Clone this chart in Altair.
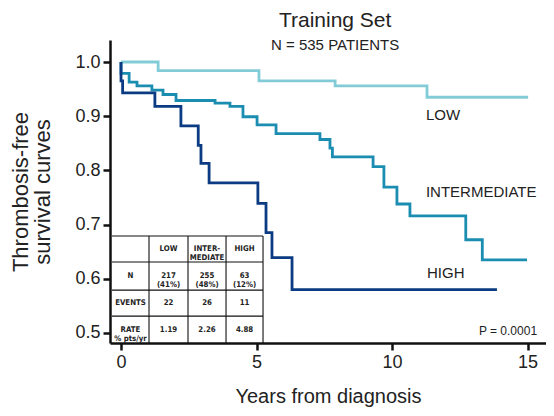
import altair as alt
import pandas as pd

# ---- data ----
low_t = [0, 1.37, 5.09, 7.90, 11.29, 15.02]
low_s = [1.0, 0.984, 0.965, 0.956, 0.935, 0.935]

int_t = [0, 0, 0.30, 0.59, 1.14, 1.55, 2.03, 3.47, 4.02, 4.50, 5.02, 5.72,
         7.34, 7.71, 7.80, 9.30, 9.70, 10.18, 10.66, 12.72, 13.33, 14.98]
int_s = [1.0, 0.979, 0.963, 0.956, 0.948, 0.940, 0.929, 0.924, 0.918, 0.899, 0.884, 0.868,
         0.857, 0.841, 0.825, 0.807, 0.769, 0.738, 0.716, 0.672, 0.635, 0.635]

high_t = [0, 0, 0.06, 1.25, 2.21, 2.85, 2.95, 3.25, 5.05, 5.35, 5.57, 6.31, 13.87]
high_s = [1.0, 0.965, 0.943, 0.918, 0.882, 0.846, 0.813, 0.777, 0.739, 0.685, 0.639, 0.580, 0.580]

groups = ["LOW", "INTERMEDIATE", "HIGH"]
colors = ["#82ccd7", "#1a8db1", "#0b3b82"]

x_ticks = [0, 5, 10, 15]
y_ticks = [0.5, 0.6, 0.7, 0.8, 0.9, 1.0]

table_header = ["", "LOW", "INTER-\nMEDIATE", "HIGH"]
table_rows = [
    ["N", "217\n(41%)", "255\n(48%)", "63\n(12%)"],
    ["EVENTS", "22", "26", "11"],
    ["RATE\n% pts/yr", "1.19", "2.26", "4.88"],
]

title_text = "Training Set"
subtitle_text = "N = 535 PATIENTS"
p_text = "P = 0.0001"

# ---- build tables ----
rows = []
for g, ts, ss in zip(groups, [low_t, int_t, high_t], [low_s, int_s, high_s]):
    for i, (t, s) in enumerate(zip(ts, ss)):
        rows.append({"group": g, "t": t, "s": s, "order": i})
curves = pd.DataFrame(rows)

xdom = [-0.406, 15.68]
ydom = [0.4815, 1.0406]
xs = alt.Scale(domain=xdom, nice=False, zero=False)
ys = alt.Scale(domain=ydom, nice=False, zero=False)

font = "Liberation Sans"
tfont = "DejaVu Sans Condensed, Liberation Sans, sans-serif"

lines = alt.Chart(curves).mark_line(interpolate="step-after", strokeWidth=2.8).encode(
    x=alt.X("t:Q", scale=xs, axis=alt.Axis(
        values=x_ticks, title="Years from diagnosis", format="d",
        titleFontSize=20, titleFontWeight="normal", titlePadding=15,
        labelFontSize=18, labelPadding=3, tickSize=7, tickWidth=2.5,
        domainWidth=2.5, domainColor="#111", tickColor="#111",
        labelColor="#222", titleColor="#222", grid=False)),
    y=alt.Y("s:Q", scale=ys, axis=alt.Axis(
        values=y_ticks, format=".1f", title=["Thrombosis-free", "survival curves"],
        titleFontSize=22, titleFontWeight="normal", titlePadding=20, titleLineHeight=22,
        labelFontSize=18, labelPadding=3, tickSize=7, tickWidth=2.5,
        domainWidth=2.5, domainColor="#111", tickColor="#111",
        labelColor="#222", titleColor="#222", grid=False)),
    color=alt.Color("group:N", scale=alt.Scale(domain=groups, range=colors), legend=None),
    order="order:Q",
    detail="group:N",
)

# curve labels
lab = pd.DataFrame({
    "text": groups,
    "t": [11.25, 11.25, 11.29],
    "s": [0.893, 0.751, 0.601],
})
labels = alt.Chart(lab).mark_text(align="left", baseline="alphabetic", fontSize=15,
                                  font=font, color="#222").encode(
    x=alt.X("t:Q", scale=xs), y=alt.Y("s:Q", scale=ys), text="text:N")

pdf = pd.DataFrame({"text": [p_text], "t": [15.35], "s": [0.496]})
ptext = alt.Chart(pdf).mark_text(align="right", baseline="alphabetic", fontSize=12,
                                 font=font, color="#222").encode(
    x=alt.X("t:Q", scale=xs), y=alt.Y("s:Q", scale=ys), text="text:N")

# in-plot table
x_edges = [-0.332, 1.033, 2.472, 3.875, 5.24]
y_edges = [0.679, 0.631, 0.579, 0.531, 0.4815]
rules = []
for yv in y_edges[:-1]:
    rules.append({"x": x_edges[0], "x2": x_edges[-1], "y": yv, "y2": yv})
for xv in x_edges[1:]:
    rules.append({"x": xv, "x2": xv, "y": y_edges[0], "y2": y_edges[-1]})
rules_df = pd.DataFrame(rules)
grid = alt.Chart(rules_df).mark_rule(color="#111", strokeWidth=1.1).encode(
    x=alt.X("x:Q", scale=xs), x2="x2:Q", y=alt.Y("y:Q", scale=ys), y2="y2:Q")

cells = []
all_rows = [table_header] + table_rows
for r, row in enumerate(all_rows):
    for c, txt in enumerate(row):
        if not txt:
            continue
        cells.append({"text": txt,
                      "t": (x_edges[c] + x_edges[c + 1]) / 2,
                      "s": (y_edges[r] + y_edges[r + 1]) / 2})
cells_df = pd.DataFrame(cells)
cell_text = alt.Chart(cells_df).mark_text(fontSize=7.8, fontWeight="bold", lineBreak="\n",
                                          lineHeight=9, font=tfont,
                                          color="#222", baseline="middle").encode(
    x=alt.X("t:Q", scale=xs), y=alt.Y("s:Q", scale=ys), text="text:N")

# title texts
tdf = pd.DataFrame({"text": [title_text, subtitle_text], "t": [7.9, 7.9],
                    "s": [1.0406 + (40 - 27) / 542, 1.0406 + (40 - 50) / 542],
                    "size": [21, 15]})
titles = alt.Chart(tdf).mark_text(align="center", baseline="alphabetic", font=font,
                                  color="#222", clip=False).encode(
    x=alt.X("t:Q", scale=xs), y=alt.Y("s:Q", scale=ys), text="text:N",
    size=alt.Size("size:Q", scale=None, legend=None))

chart = alt.layer(grid, lines, labels, ptext, cell_text, titles).properties(
    width=436, height=303,
    autosize=alt.AutoSizeParams(type="none"),
    padding={"left": 102, "top": 32, "right": 0, "bottom": 65},
).configure_view(stroke=None).configure_axis(labelFont=font, titleFont=font)

chart.save("out.html", embed_options={"renderer": "svg", "actions": False})
